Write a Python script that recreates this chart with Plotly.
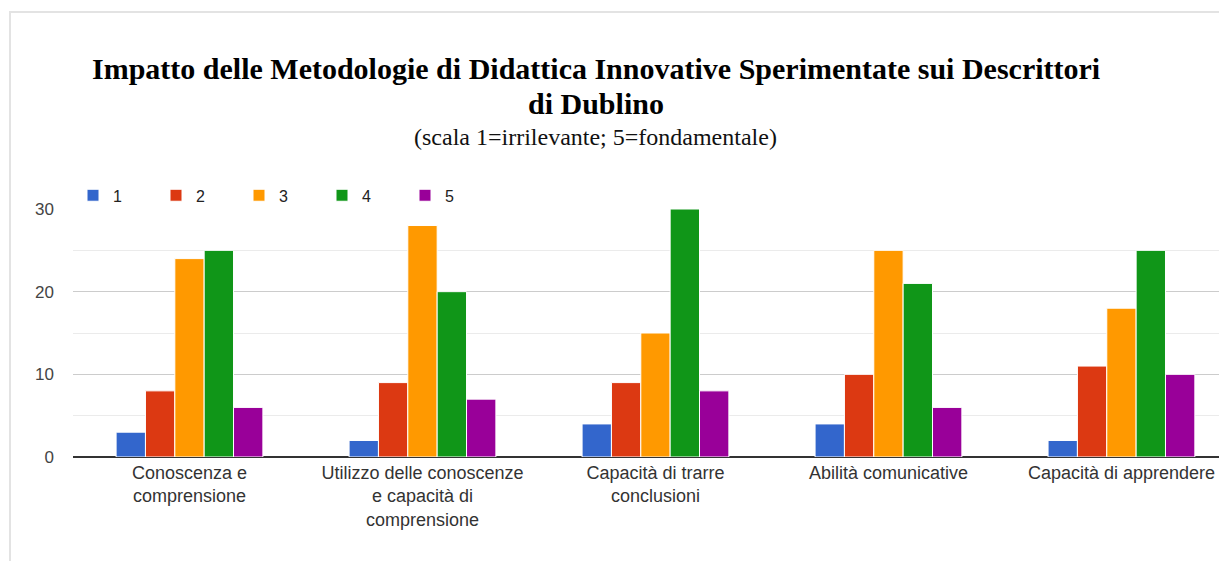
import plotly.graph_objects as go

categories = [
    "Conoscenza e<br>comprensione",
    "Utilizzo delle conoscenze<br>e capacità di<br>comprensione",
    "Capacità di trarre<br>conclusioni",
    "Abilità comunicative",
    "Capacità di apprendere",
]
series_names = ["1", "2", "3", "4", "5"]
values_1 = [3, 2, 4, 4, 2]
values_2 = [8, 9, 9, 10, 11]
values_3 = [24, 28, 15, 25, 18]
values_4 = [25, 20, 30, 21, 25]
values_5 = [6, 7, 8, 6, 10]
colors = ["#3366cc", "#dc3912", "#ff9900", "#109618", "#990099"]
y_ticks = [0, 10, 20, 30]
title_line_1 = "Impatto delle Metodologie di Didattica Innovative Sperimentate sui Descrittori"
title_line_2 = "di Dublino"
subtitle = "(scala 1=irrilevante; 5=fondamentale)"

series = [values_1, values_2, values_3, values_4, values_5]

fig = go.Figure()
for name, vals, col in zip(series_names, series, colors):
    fig.add_trace(go.Bar(
        x=categories, y=vals, name=name,
        marker=dict(color=col, line=dict(color="white", width=1)),
    ))

fig.update_layout(
    width=1227, height=561,
    margin=dict(l=65, r=8, t=201, b=112),
    paper_bgcolor="white", plot_bgcolor="white",
    barmode="group", bargap=0.37, bargroupgap=0.0,
    font=dict(family="Liberation Sans, Arial, sans-serif", color="#222"),
    legend=dict(
        orientation="h", x=0.0, xanchor="left", y=1.055, yanchor="middle",
        font=dict(size=16, color="#222"),
        entrywidth=38, entrywidthmode="pixels",
        itemclick=False, bgcolor="rgba(0,0,0,0)",
    ),
    showlegend=True,
)

fig.update_xaxes(
    range=[-0.5, 4.453],
    tickfont=dict(size=18, color="#333"),
    showgrid=False, ticks="", showline=False, ticklabelstandoff=3,
)
fig.update_yaxes(
    range=[0, 30], tickvals=y_ticks,
    tickfont=dict(size=17, color="#444"),
    gridcolor="#cccccc", gridwidth=1,
    minor=dict(dtick=5, showgrid=True, gridcolor="#ebebeb", gridwidth=1),
    zeroline=True, zerolinecolor="#333333", zerolinewidth=2,
    ticks="", ticklabelstandoff=18, showline=False,
)

serif = "Liberation Serif, Times New Roman, serif"
fig.add_annotation(
    text="<b>" + title_line_1 + "</b>",
    xref="paper", yref="paper", x=0.4532, y=1.5685,
    xanchor="center", yanchor="middle", showarrow=False,
    font=dict(family=serif, size=30, color="black"),
)
fig.add_annotation(
    text="<b>" + title_line_2 + "</b>",
    xref="paper", yref="paper", x=0.4532, y=1.4274,
    xanchor="center", yanchor="middle", showarrow=False,
    font=dict(family=serif, size=30, color="black"),
)
fig.add_annotation(
    text=subtitle,
    xref="paper", yref="paper", x=0.4532, y=1.2903,
    xanchor="center", yanchor="middle", showarrow=False,
    font=dict(family=serif, size=24, color="#111"),
)

fig.add_shape(
    type="rect", xref="paper", yref="paper",
    x0=-0.0546, x1=1.2, y0=-1.0, y1=1.794,
    line=dict(color="#e3e3e3", width=2), fillcolor="rgba(0,0,0,0)", layer="below",
)

fig.write_html("out.html")
